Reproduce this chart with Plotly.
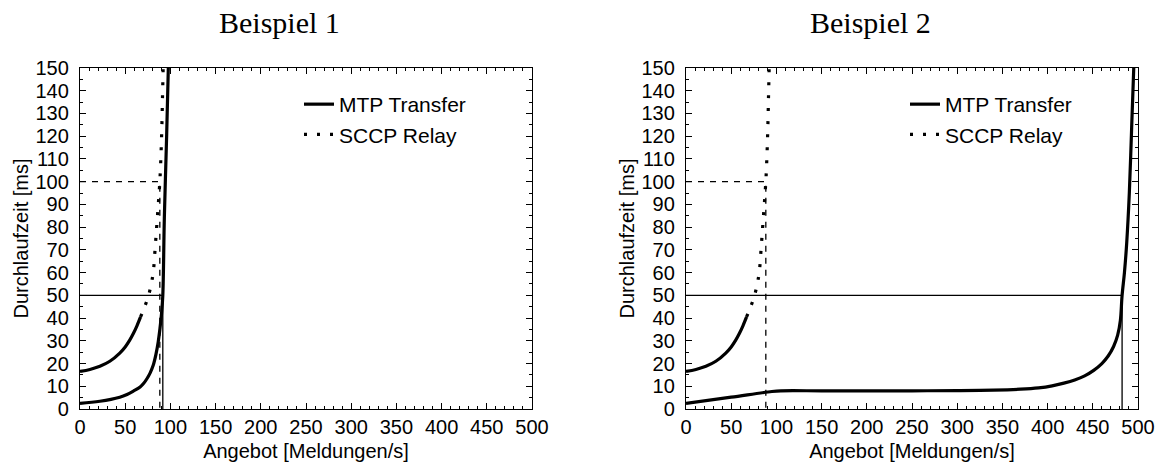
import plotly.graph_objects as go

# ---------------- data ----------------
# SCCP Relay (same curve in both examples)
sccp_x = [0, 11, 22, 33, 44, 50, 55, 59, 63, 67, 72, 75.6, 78.5, 81, 83, 84.8, 86.6, 88.3, 89.6, 90.6, 91.3, 92.0]
sccp_y = [16.5, 17.4, 18.8, 21.0, 24.6, 27.3, 30.3, 33.2, 36.6, 40.5, 45.5, 49.5, 54.5, 60, 70, 80, 90, 100, 112, 125, 138, 150]
sccp_solid_n = 10  # lower part appears solid (dense dots), upper part dotted

# MTP Transfer, Beispiel 1
mtp1_x = [0, 22, 44, 52, 59, 66.5, 70.5, 74, 77.5, 81, 84, 86.5, 88.5, 90.2, 91.6, 93.3, 95.9, 97.7]
mtp1_y = [2.5, 3.4, 5.2, 6.4, 7.9, 9.7, 11.3, 13.3, 15.8, 19.2, 24, 29.5, 35.5, 42, 50, 84, 121, 150]

# MTP Transfer, Beispiel 2
mtp2_x = [0, 50, 95, 105, 150, 200, 250, 300, 340, 370, 390, 405, 418, 430, 441, 451, 460, 467, 473,
          477.5, 480.5, 482.4, 485, 487.5, 490.4, 493, 495.3]
mtp2_y = [2.5, 5.2, 7.7, 8.0, 8.0, 8.0, 8.0, 8.1, 8.3, 8.7, 9.3, 10.2, 11.4, 12.8, 14.6, 17, 20, 23.3, 27.5,
          32.5, 39, 50, 60, 73, 95, 124, 150]

# reference levels
delay_limit_mtp = 50      # ms
delay_limit_sccp = 100    # ms
load_sccp_at_limit = 88.3
load_mtp1_at_limit = 91.6
load_mtp2_at_limit = 482.4

titles = ["Beispiel 1", "Beispiel 2"]
x_title = "Angebot [Meldungen/s]"
y_title = "Durchlaufzeit [ms]"

# ---------------- layout helpers ----------------
W, H = 1160, 463
def px_x(p):
    return p / W
def px_y(p):
    return 1 - p / H

SANS = "Liberation Sans, Arial, sans-serif"
SERIF = "Liberation Serif, Times New Roman, serif"
FS = 20

fig = go.Figure()

curve_w = 3.2
ref_w = 1.3
dot_dash = "3px,10px"
SM = 1.0

def add_panel(idx, mtp_x, mtp_y, mtp_load):
    xa = "x" if idx == 1 else "x2"
    ya = "y" if idx == 1 else "y2"
    leg = "legend" if idx == 1 else "legend2"
    # reference lines
    fig.add_trace(go.Scatter(x=[0, mtp_load, mtp_load], y=[delay_limit_mtp, delay_limit_mtp, 0],
                             mode="lines", line=dict(color="black", width=ref_w),
                             showlegend=False, hoverinfo="skip", xaxis=xa, yaxis=ya))
    fig.add_trace(go.Scatter(x=[0, load_sccp_at_limit, load_sccp_at_limit],
                             y=[delay_limit_sccp, delay_limit_sccp, 0],
                             mode="lines", line=dict(color="black", width=ref_w, dash="6px,6px"),
                             showlegend=False, hoverinfo="skip", xaxis=xa, yaxis=ya))
    # MTP Transfer
    fig.add_trace(go.Scatter(x=mtp_x, y=mtp_y, mode="lines", name="MTP Transfer",
                             line=dict(color="black", width=curve_w, shape="spline", smoothing=SM),
                             legend=leg, xaxis=xa, yaxis=ya))
    # SCCP Relay: solid-looking lower part + dotted upper part
    fig.add_trace(go.Scatter(x=sccp_x[:sccp_solid_n], y=sccp_y[:sccp_solid_n], mode="lines",
                             line=dict(color="black", width=curve_w, shape="spline", smoothing=SM),
                             showlegend=False, xaxis=xa, yaxis=ya))
    fig.add_trace(go.Scatter(x=sccp_x[sccp_solid_n - 1:], y=sccp_y[sccp_solid_n - 1:], mode="lines",
                             name="SCCP Relay",
                             line=dict(color="black", width=curve_w, dash=dot_dash, shape="spline", smoothing=SM),
                             legend=leg, xaxis=xa, yaxis=ya))

add_panel(1, mtp1_x, mtp1_y, load_mtp1_at_limit)
add_panel(2, mtp2_x, mtp2_y, load_mtp2_at_limit)

axis_common = dict(
    showline=True, linecolor="black", linewidth=1.3, mirror="ticks",
    ticks="inside", ticklen=6, tickwidth=1.2, tickcolor="black",
    showgrid=False, zeroline=False,
    tickfont=dict(family=SANS, size=FS, color="black"),
    automargin=False,
)

xaxis_common = dict(axis_common, range=[0, 500], tickmode="linear", tick0=0, dtick=50,
                    minor=dict(dtick=10, ticks="inside", ticklen=3, tickwidth=1, tickcolor="black"),
                    ticklabelstandoff=0,
                    title=dict(text=x_title, font=dict(family=SANS, size=FS, color="black"), standoff=6))
yaxis_common = dict(axis_common, range=[0, 150], tickmode="linear", tick0=0, dtick=10,
                    minor=dict(dtick=5, ticks="inside", ticklen=3, tickwidth=1, tickcolor="black"),
                    ticklabelstandoff=6,
                    title=dict(text=y_title, font=dict(family=SANS, size=FS, color="black"), standoff=1))

x1d = [px_x(80), px_x(532)]
x2d = [px_x(686), px_x(1138)]
yd = [px_y(409), px_y(68)]

legend_common = dict(font=dict(family=SANS, size=21, color="black"), bgcolor="rgba(0,0,0,0)",
                     borderwidth=0, xanchor="left", yanchor="top", itemwidth=30,
                     tracegroupgap=0)

fig.update_layout(
    width=W, height=H,
    margin=dict(l=0, r=0, t=0, b=0),
    paper_bgcolor="white", plot_bgcolor="white",
    xaxis=dict(xaxis_common, domain=x1d, anchor="y"),
    yaxis=dict(yaxis_common, domain=yd, anchor="x"),
    xaxis2=dict(xaxis_common, domain=x2d, anchor="y2"),
    yaxis2=dict(yaxis_common, domain=yd, anchor="x2"),
    legend=dict(legend_common, x=px_x(299), y=px_y(84)),
    legend2=dict(legend_common, x=px_x(905), y=px_y(84)),
    annotations=[
        dict(text=titles[0], x=px_x(279), y=px_y(23), xref="paper", yref="paper",
             showarrow=False, font=dict(family=SERIF, size=30, color="black"),
             xanchor="center", yanchor="middle"),
        dict(text=titles[1], x=px_x(870), y=px_y(23), xref="paper", yref="paper",
             showarrow=False, font=dict(family=SERIF, size=30, color="black"),
             xanchor="center", yanchor="middle"),
    ],
)

fig.write_html("out.html")
